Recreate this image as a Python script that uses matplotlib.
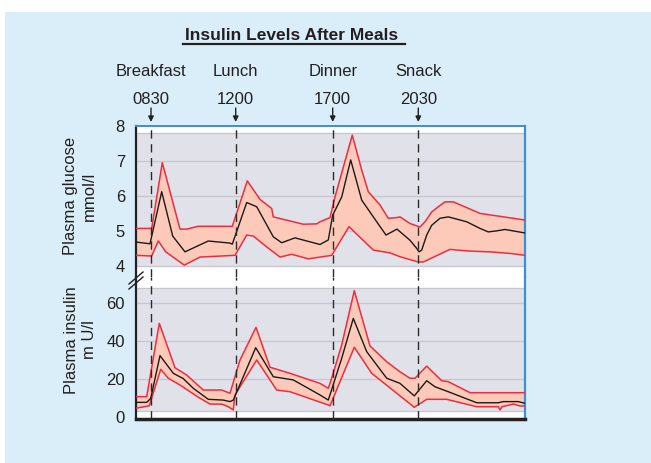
import matplotlib
matplotlib.use("Agg")
import matplotlib.pyplot as plt
from matplotlib.patches import Rectangle, FancyArrowPatch
from matplotlib.lines import Line2D

plt.rcParams['font.family'] = ['Liberation Sans', 'DejaVu Sans']

# meal markers (position along the time axis, chart units 0..389)
meals = ["Breakfast", "Lunch", "Dinner", "Snack"]
meal_times = ["0830", "1200", "1700", "2030"]
meal_pos = [15, 99.7, 196.7, 282.3]

# plasma glucose, mmol/l
glu_hi_x = [0, 15.7, 26.3, 44, 50.7, 62, 96.3, 111.3, 124, 135.7, 137.3, 167.3, 180.7, 184, 194,
            199, 216.3, 225.7, 232.3, 244, 252.3, 260.7, 264, 274, 284, 289, 295.7, 302.3, 309,
            317.3, 344, 389]
glu_hi_y = [5.07, 5.07, 6.95, 5.05, 5.05, 5.13, 5.13, 6.43, 5.9, 5.64, 5.4, 5.19, 5.2, 5.26, 5.38,
            5.97, 7.74, 6.74, 6.12, 5.74, 5.36, 5.38, 5.4, 5.21, 5.11, 5.26, 5.54, 5.69, 5.83,
            5.83, 5.5, 5.31]
glu_mid_x = [0, 14, 25.7, 36.7, 49, 72.3, 94, 96.3, 110.7, 120.7, 137.3, 145.7, 159, 184, 192.3,
             196.7, 205.7, 214.7, 225.7, 237.3, 250, 261, 274, 280.7, 283, 285.7, 290.7, 295.7,
             304, 312.3, 330.7, 344, 352.3, 360.7, 369, 389]
glu_mid_y = [4.68, 4.63, 6.12, 4.85, 4.4, 4.71, 4.65, 4.62, 5.81, 5.69, 4.83, 4.66, 4.8, 4.61, 4.74,
             5.45, 5.97, 7.03, 5.88, 5.4, 4.88, 5.05, 4.73, 4.5, 4.4, 4.45, 4.88, 5.16,
             5.36, 5.4, 5.26, 5.07, 4.97, 5.0, 5.04, 4.94]
glu_lo_x = [0, 15.7, 22.3, 29.7, 48.3, 64, 99, 110.7, 117.3, 130.7, 144, 155.7, 172.3, 195.7, 213,
            237.3, 254, 264, 282.3, 287.3, 314, 334, 354, 375.7, 389]
glu_lo_y = [4.3, 4.28, 4.71, 4.4, 4.02, 4.25, 4.3, 4.88, 4.85, 4.54, 4.25, 4.33, 4.2, 4.3, 5.12,
            4.45, 4.37, 4.26, 4.11, 4.11, 4.47, 4.42, 4.4, 4.35, 4.3]

# plasma insulin, mU/l
ins_hi_x = [0, 10.7, 23.3, 39, 50.7, 67.3, 85.7, 94, 104, 120, 134, 154, 184, 192.3, 195.7, 205.7,
            218.3, 234, 250.7, 264, 274, 279, 290.7, 305.7, 312.3, 334, 389]
ins_hi_y = [10.7, 10.7, 49.3, 25.9, 22.1, 14.2, 14.2, 12.5, 30, 47.2, 26.2, 23, 17.7, 15.1, 20.4,
            37.9, 66.5, 37.4, 29.1, 23.8, 20.4, 20.4, 26.8, 19.1, 18.6, 12.8, 12.8]
ins_mid_x = [0, 10.7, 14.7, 24, 37.3, 47.3, 57.3, 72.3, 87.3, 94, 97.3, 119.7, 137.3, 157.3, 184,
             192.3, 205.7, 217.3, 230.7, 250.7, 264, 278.3, 290.7, 299, 312.3, 340.7, 362.3, 367.3,
             382.3, 389]
ins_mid_y = [7.7, 7.7, 9.8, 32.3, 23, 20.2, 15.1, 9.3, 8.9, 8.1, 8.9, 36.5, 21.2, 19.5, 11.6,
             8.9, 30.9, 51.9, 34.4, 20.4, 17.7, 11.1, 19.1, 15.9, 13.3, 7.5, 7.5, 8.1,
             8.1, 7.2]
ins_lo_x = [0, 13.3, 24.7, 32.3, 44, 62.3, 74, 85.7, 92.3, 97.3, 99, 120.7, 140.7, 154, 192.3, 194,
            218.3, 235.7, 260.7, 278.3, 290.7, 310.7, 340.7, 362.3, 364, 366, 377.3, 384, 389]
ins_lo_y = [4.6, 5.9, 25.1, 20.4, 16.8, 10.4, 6.8, 6.8, 5.4, 3.7, 11.6, 30, 14.2, 13.3, 6.3, 5.9,
            36.7, 23, 12.5, 5.1, 9.3, 9.3, 5.4, 5.4, 3.7, 5.4, 6.8, 5.8, 5.8]

W, H = 651, 463
BLUE_BG = '#DAEEFA'
PANEL = '#E1E1EA'
GRID = '#C8C8CC'
FILL = '#FDC9B8'
RED = '#EC2D3F'
SPINE_BLUE = '#3D8FD1'
TXT = '#231F20'


def px(x, y):
    return x / W, 1 - y / H


fig = plt.figure(figsize=(W / 100, H / 100), dpi=100)
fig.patch.set_facecolor('white')
fig.add_artist(Rectangle(px(5, 463), 646 / W, 451 / H, transform=fig.transFigure,
                         facecolor=BLUE_BG, edgecolor='none', zorder=0))

ax_g = fig.add_axes([136 / W, 1 - 277 / H, 389 / W, 151 / H])
ax_i = fig.add_axes([136 / W, 1 - 418.7 / H, 389 / W, 141.7 / H])


def band(ax, hx, hy, mx, my, lx, ly):
    ax.fill(list(hx) + list(lx[::-1]), list(hy) + list(ly[::-1]),
            facecolor=FILL, edgecolor='none', zorder=2)
    ax.plot(hx, hy, color=RED, lw=1.1, zorder=3)
    ax.plot(lx, ly, color=RED, lw=1.1, zorder=3)
    ax.plot(mx, my, color='#1a1a1a', lw=1.0, zorder=4)


for ax in (ax_g, ax_i):
    ax.set_facecolor('white')
    ax.set_xlim(0, 389)
    ax.set_xticks([])
    ax.tick_params(axis='y', length=0, pad=8, labelsize=12, labelcolor=TXT)
    for m in meal_pos:
        ax.axvline(m, color='#2a2a2a', lw=1.0, dashes=(6, 4), zorder=5)
    ax.spines['left'].set_color('#222222')
    ax.spines['left'].set_linewidth(1.6)
    ax.spines['right'].set_color(SPINE_BLUE)
    ax.spines['right'].set_linewidth(1.6)

# glucose panel
ax_g.set_ylim(3.68, 8.0)
ax_g.set_yticks([4, 5, 6, 7, 8])
ax_g.axhspan(4.0, 7.8, color=PANEL, lw=0, zorder=0)
for v in [4.0, 5, 6, 7, 7.8]:
    ax_g.axhline(v, color=GRID, lw=1.0, zorder=1)
ax_g.spines['top'].set_color(SPINE_BLUE)
ax_g.spines['top'].set_linewidth(1.4)
ax_g.spines['bottom'].set_visible(False)
band(ax_g, glu_hi_x, glu_hi_y, glu_mid_x, glu_mid_y, glu_lo_x, glu_lo_y)

# insulin panel
ax_i.set_ylim(-0.9, 73.7)
ax_i.set_yticks([0, 20, 40, 60])
ax_i.axhspan(3.2, 67.7, color=PANEL, lw=0, zorder=0)
for v in [3.2, 20, 40, 60, 67.7]:
    ax_i.axhline(v, color=GRID, lw=1.0, zorder=1)
ax_i.spines['top'].set_visible(False)
ax_i.spines['bottom'].set_color('#222222')
ax_i.spines['bottom'].set_linewidth(2.5)
band(ax_i, ins_hi_x, ins_hi_y, ins_mid_x, ins_mid_y, ins_lo_x, ins_lo_y)

# axis break marks
for dy in (0, 5):
    fig.add_artist(Line2D([px(129, 284 + dy)[0], px(143, 272 + dy)[0]],
                          [px(129, 284 + dy)[1], px(143, 272 + dy)[1]],
                          transform=fig.transFigure, color='#222222', lw=1.0))

# y labels
fig.text(*px(80, 196), "Plasma glucose\nmmol/l", rotation=90, ha='center', va='center',
         fontsize=12, color=TXT, multialignment='center', linespacing=1.25)
fig.text(*px(80, 340), "Plasma insulin\nm U/l", rotation=90, ha='center', va='center',
         fontsize=12, color=TXT, multialignment='center', linespacing=1.25)

# meal annotations with arrows
x0 = ax_g.transData
for name, t, m in zip(meals, meal_times, meal_pos):
    xf = fig.transFigure.inverted().transform(x0.transform((m, 8.0)))[0]
    fig.text(xf, px(0, 71)[1], name, ha='center', va='center', fontsize=12, color=TXT)
    fig.text(xf, px(0, 99)[1], t, ha='center', va='center', fontsize=12, color=TXT)
    fig.add_artist(FancyArrowPatch((xf, px(0, 108)[1]), (xf, px(0, 122)[1]),
                                   transform=fig.transFigure, arrowstyle='-|>',
                                   mutation_scale=8, color='#222222', lw=1.0,
                                   shrinkA=0, shrinkB=0))

# title with underline
fig.text(*px(292, 35), "Insulin Levels After Meals", ha='center', va='center',
         fontsize=12.5, fontweight='bold', color=TXT)
fig.add_artist(Line2D([183 / W, 405 / W], [px(0, 44)[1]] * 2, transform=fig.transFigure,
                      color=TXT, lw=1.6))

fig.savefig("out.png", dpi=100, facecolor=fig.get_facecolor())
